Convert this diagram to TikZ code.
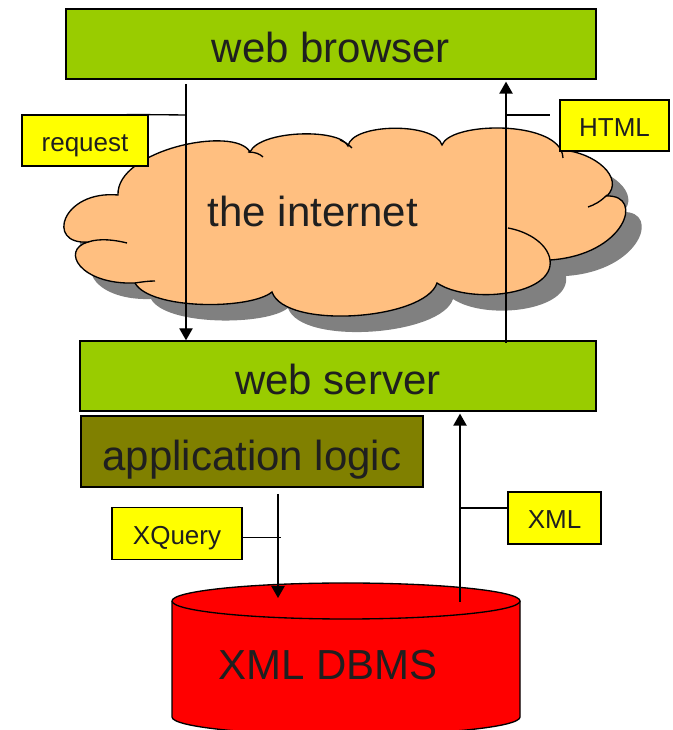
\documentclass[tikz,border=0pt]{standalone}
\usepackage{fontspec}
\setmainfont{Liberation Sans}
\usetikzlibrary{arrows.meta}
\definecolor{wtTier}{HTML}{99CC00}
\definecolor{wtLogic}{HTML}{808000}
\definecolor{wtTag}{HTML}{FFFF00}
\definecolor{wtNet}{HTML}{FFBF80}
\definecolor{wtShade}{HTML}{808080}
\definecolor{wtStore}{HTML}{FF0000}
\tikzset{
  wtbox/.style={draw=black, line width=1pt, inner sep=0pt, text height=28pt, text depth=0pt,
                font=\fontsize{31.5}{36}\selectfont, text=black!88},
  wtbig/.style={inner sep=0pt, text height=28pt, text depth=0pt,
                font=\fontsize{31.5}{36}\selectfont, text=black!88},
  wttag/.style={draw=black, line width=0.8pt, fill=wtTag, inner sep=0pt, text height=16pt, text depth=0pt,
                font=\fontsize{19.5}{22}\selectfont, text=black!88},
  wtflow/.style={draw=black, line width=1pt, -{Triangle[length=9pt,width=10pt]}},
  wtlink/.style={draw=black, line width=1pt},
}
% outline of the cloud, one bump after the other
\newcommand{\wtCloudPath}{(88,488)
  .. controls (45,485) and (62,540) .. (118,535)
  .. controls (116,580) and (235,605) .. (250,578)
  .. controls (260,600) and (340,602) .. (348,584)
  .. controls (352,607) and (435,608) .. (442,585)
  .. controls (450,607) and (545,610) .. (561,580)
  .. controls (595,578) and (625,552) .. (607,534)
  .. controls (645,535) and (625,475) .. (550,470)
  .. controls (555,435) and (470,425) .. (437,447)
  .. controls (425,410) and (285,400) .. (272,438)
  .. controls (250,420) and (150,420) .. (135,447)
  .. controls (80,445) and (60,480) .. (88,488) -- cycle}

\begin{document}
\begin{tikzpicture}[x=0.75pt,y=0.75pt]
  \useasboundingbox (0,0) rectangle (673,730);
  % the internet
  \fill[wtShade, xshift=12pt, yshift=-12pt] \wtCloudPath;
  \filldraw[draw=black, line width=1pt, fill=wtNet] \wtCloudPath;
  \draw[line width=1pt] (88,488) .. controls (100,492) and (115,490) .. (127,487);
  \draw[line width=1pt] (248,578) .. controls (255,578) and (260,576) .. (263,573);
  \draw[line width=1pt] (340,590) .. controls (345,588) and (349,585) .. (352,582);
  \draw[line width=1pt] (561,580) .. controls (562,577) and (563,575) .. (563,572);
  \draw[line width=1pt] (607,535) .. controls (600,528) and (594,525) .. (588,523);
  \draw[line width=1pt] (508,502) .. controls (530,498) and (548,485) .. (550,470);
  \draw[line width=1pt] (135,447) .. controls (142,448) and (148,449) .. (155,449);
  \node[wtbig] (net) at (313,521.7) {the internet};
  % tiers
  \node[wtbox, fill=wtTier, minimum width=397.5pt, minimum height=52.5pt] (browser) at (331,686) {web browser};
  \node[wtbox, fill=wtTier, minimum width=387pt, minimum height=52.5pt] (server) at (338,354) {web server};
  \node[wtbox, fill=wtLogic, minimum width=256.5pt, minimum height=53.25pt] (logic) at (252,278.5) {application logic};
  % database drum
  \filldraw[draw=black, line width=1pt, fill=wtStore]
    (172,129) -- (172,13) arc[start angle=180, end angle=360, x radius=174, y radius=18]
    -- (520,129) arc[start angle=0, end angle=180, x radius=174, y radius=18] -- cycle;
  \draw[line width=1pt] (172,129) arc[start angle=180, end angle=360, x radius=174, y radius=18];
  \node[wtbig] (dbms) at (328,68.7) {XML DBMS};
  % labels
  \node[wttag, minimum width=94.5pt, minimum height=38.25pt] (request) at (85,589.5) {request};
  \node[wttag, minimum width=81.75pt, minimum height=38.25pt] (html) at (614.5,604.5) {HTML};
  \node[wttag, minimum width=97.5pt, minimum height=39pt] (xquery) at (177,196.5) {XQuery};
  \node[wttag, minimum width=69.75pt, minimum height=39pt] (xml) at (554.5,212) {XML};
  % request and answer
  \coordinate (reqfrom) at (186,646);
  \coordinate (reqtap) at (186,615);
  \coordinate (htmlfrom) at (506,387);
  \coordinate (htmltap) at (506,615);
  \coordinate (htmlend) at (550,615);
  \draw[wtflow] (reqfrom) -- (reqfrom |- server.north);
  \draw[wtlink] (reqtap) -- ([xshift=-16.5pt]request.north east);
  \draw[wtflow] (htmlfrom) -- ([yshift=-1.5pt]htmlfrom |- browser.south);
  \draw[wtlink] (htmltap) -- (htmlend);
  % query and result
  \coordinate (qfrom) at (278,236);
  \coordinate (qto) at (278,132);
  \coordinate (qend) at (281,192.5);
  \coordinate (xfrom) at (460,128);
  \coordinate (xtap) at (460,222);
  \draw[wtflow] (qfrom) -- (qto);
  \draw[wtlink] (xquery.east |- qend) -- (qend);
  \draw[wtflow] (xfrom) -- ([yshift=-1.5pt]xfrom |- server.south);
  \draw[wtlink] (xtap) -- (xtap -| xml.west);
\end{tikzpicture}
\end{document}
